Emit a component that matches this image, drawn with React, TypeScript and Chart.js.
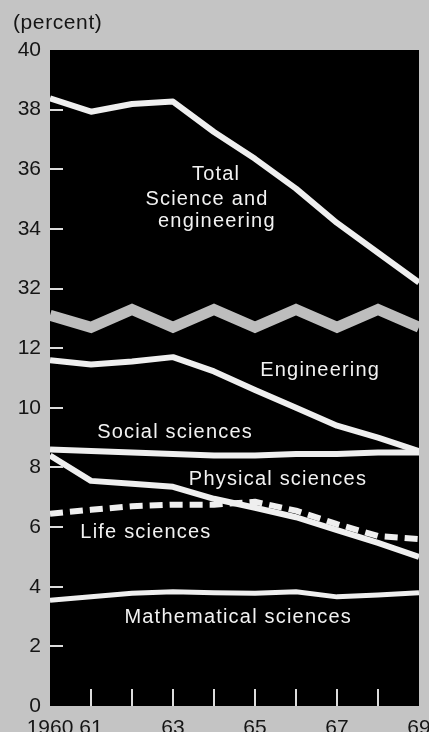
import React, { useEffect, useRef } from 'react';
import { Chart, registerables } from 'chart.js';

Chart.register(...registerables);

// ---- data (percent) ----
const years = [1960, 1961, 1962, 1963, 1964, 1965, 1966, 1967, 1968, 1969];
const totalScienceEngineering = [38.38, 37.93, 38.19, 38.27, 37.25, 36.35, 35.35, 34.2, 33.2, 32.2];
const engineering = [11.6, 11.45, 11.55, 11.7, 11.22, 10.6, 10.0, 9.4, 9.0, 8.55];
const socialSciences = [8.6, 8.55, 8.5, 8.45, 8.4, 8.4, 8.45, 8.45, 8.5, 8.5];
const physicalSciences = [8.4, 7.55, 7.45, 7.35, 6.95, 6.65, 6.33, 5.9, 5.47, 5.0];
const lifeSciences = [6.45, 6.58, 6.7, 6.75, 6.75, 6.85, 6.55, 6.1, 5.7, 5.6];
const mathematicalSciences = [3.55, 3.66, 3.78, 3.83, 3.8, 3.78, 3.83, 3.66, 3.72, 3.8];

// zig-zag axis break band (in axis units, between 12 and 32)
const breakBand = [13.1, 12.7, 13.3, 12.7, 13.3, 12.7, 13.3, 12.7, 13.3, 12.7];

// ---- ticks ----
const xTickYears = [1960, 1961, 1963, 1965, 1967, 1969];
const xMarkYears = [1961, 1962, 1963, 1964, 1965, 1966, 1967, 1968];
const lowerTicks = [0, 2, 4, 6, 8, 10, 12];
const upperTicks = [32, 34, 36, 38, 40];
const BREAK_OFFSET = 18; // axis value = percent - 18 above the break
const toAxis = (v: number) => (v >= 20 ? v - BREAK_OFFSET : v);
const fromAxis = (v: number) => (v > 13 ? v + BREAK_OFFSET : v);

// ---- in-plot series labels ----
const seriesLabels = [
  { text: 'Total', year: 1964.05, value: 35.65 },
  { text: 'Science and', year: 1963.83, value: 34.8 },
  { text: 'engineering', year: 1964.07, value: 34.05 },
  { text: 'Engineering', year: 1966.59, value: 11.07 },
  { text: 'Social sciences', year: 1963.05, value: 8.99 },
  { text: 'Physical sciences', year: 1965.56, value: 7.41 },
  { text: 'Life sciences', year: 1962.34, value: 5.63 },
  { text: 'Mathematical sciences', year: 1964.59, value: 2.78 },
];
const unitLabel = '(percent)';

const FONT = '"Liberation Sans", Arial, Helvetica, sans-serif';
const LINE = '#efefef';

const pts = (arr: number[]) => arr.map((v, i) => ({ x: years[i], y: toAxis(v) }));

const decorPlugin = {
  id: 'decor',
  beforeDraw(chart: any) {
    const { ctx, chartArea: a } = chart;
    ctx.save();
    ctx.fillStyle = '#000';
    ctx.fillRect(a.left, a.top, a.right - a.left, a.bottom - a.top);
    ctx.restore();
  },
  afterDatasetsDraw(chart: any) {
    const { ctx, chartArea: a, scales } = chart;
    const xs = scales.x;
    const ys = scales.y;
    ctx.save();
    // tick marks inside plot
    ctx.strokeStyle = '#dcdcdc';
    ctx.lineWidth = 2;
    const yMarks = [...lowerTicks.slice(1), ...upperTicks.slice(0, -1).map(toAxis)];
    yMarks.forEach((v) => {
      const y = Math.round(ys.getPixelForValue(v));
      ctx.beginPath();
      ctx.moveTo(a.left, y);
      ctx.lineTo(a.left + 13, y);
      ctx.stroke();
    });
    xMarkYears.forEach((yr) => {
      const x = Math.round(xs.getPixelForValue(yr));
      ctx.beginPath();
      ctx.moveTo(x, a.bottom);
      ctx.lineTo(x, a.bottom - 17);
      ctx.stroke();
    });
    // series labels
    ctx.fillStyle = '#f2f2f2';
    ctx.font = `20px ${FONT}`;
    ctx.textAlign = 'center';
    ctx.textBaseline = 'alphabetic';
    try { (ctx as any).letterSpacing = '1.2px'; } catch (e) {}
    seriesLabels.forEach((l) => {
      ctx.fillText(l.text, xs.getPixelForValue(l.year), ys.getPixelForValue(toAxis(l.value)));
    });
    // unit label
    try { (ctx as any).letterSpacing = '0.6px'; } catch (e) {}
    ctx.fillStyle = '#151515';
    ctx.font = `21px ${FONT}`;
    ctx.textAlign = 'left';
    ctx.fillText(unitLabel, 13, 29);
    ctx.restore();
  },
};

export default function App() {
  const ref = useRef<HTMLCanvasElement | null>(null);
  useEffect(() => {
    if (!ref.current) return;
    const lineDs = (label: string, data: number[], extra: any = {}) => ({
      label,
      data: pts(data),
      borderColor: LINE,
      borderWidth: 6,
      pointRadius: 0,
      tension: 0,
      fill: false,
      borderJoinStyle: 'round',
      ...extra,
    });
    const chart = new Chart(ref.current, {
      type: 'line',
      data: {
        datasets: [
          lineDs('Total Science and engineering', totalScienceEngineering),
          lineDs('Engineering', engineering),
          lineDs('Social sciences', socialSciences),
          lineDs('Physical sciences', physicalSciences),
          lineDs('Life sciences', lifeSciences, { borderDash: [13, 7], borderCapStyle: 'butt' }),
          lineDs('Mathematical sciences', mathematicalSciences, { borderWidth: 5 }),
          {
            label: 'break',
            data: breakBand.map((v, i) => ({ x: years[i], y: v })),
            borderColor: '#bdbdbd',
            borderWidth: 11,
            pointRadius: 0,
            tension: 0,
            borderJoinStyle: 'miter',
            order: 10,
          },
        ],
      },
      options: {
        responsive: false,
        animation: false,
        layout: { padding: { top: 50, right: 10, left: 0, bottom: 0 } },
        plugins: { legend: { display: false }, tooltip: { enabled: false } },
        scales: {
          x: {
            type: 'linear',
            min: 1960,
            max: 1969,
            grid: { display: false, drawTicks: false },
            border: { display: false },
            afterBuildTicks: (s: any) => {
              s.ticks = xTickYears.map((v) => ({ value: v }));
            },
            afterFit: (s: any) => {
              s.height = 26;
              s.paddingLeft = 0;
              s.paddingRight = 0;
            },
            ticks: {
              autoSkip: false,
              maxRotation: 0,
              padding: 10,
              color: '#151515',
              font: { family: FONT, size: 21 },
              callback: (v: any) => (v === 1960 ? '1960' : String(v).slice(2)),
            },
          },
          y: {
            type: 'linear',
            min: 0,
            max: 22,
            grid: { display: false, drawTicks: false },
            border: { display: false },
            afterBuildTicks: (s: any) => {
              s.ticks = [...lowerTicks, ...upperTicks.map(toAxis)].map((v) => ({ value: v }));
            },
            afterFit: (s: any) => {
              s.width = 50;
              s.paddingTop = 0;
              s.paddingBottom = 0;
            },
            ticks: {
              padding: 9,
              color: '#151515',
              font: { family: FONT, size: 21 },
              callback: (v: any) => String(fromAxis(Number(v))),
            },
          },
        },
      },
      plugins: [decorPlugin],
    } as any);
    return () => chart.destroy();
  }, []);
  return (
    <div
      style={{
        position: 'fixed',
        left: 0,
        top: 0,
        width: 429,
        height: 732,
        background: '#c4c4c4',
        overflow: 'hidden',
      }}
    >
      <canvas ref={ref} width={429} height={732} style={{ display: 'block' }} />
    </div>
  );
}
